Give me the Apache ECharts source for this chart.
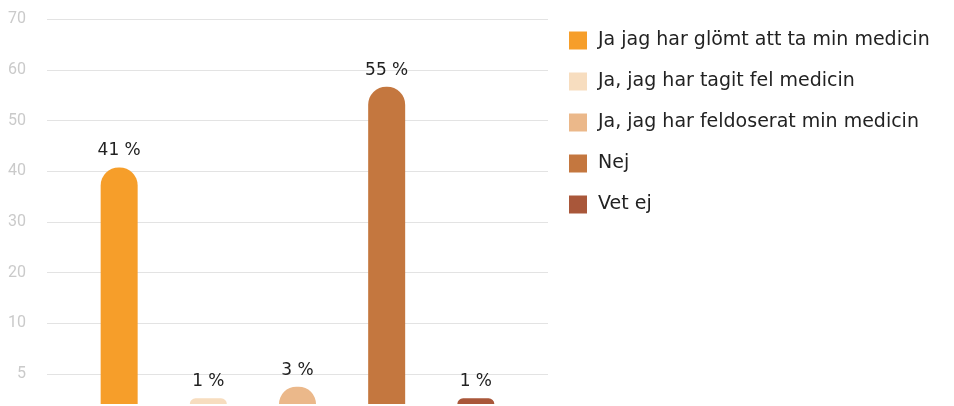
<!DOCTYPE html>
<html>
<head>
<meta charset="utf-8">
<script src="https://cdn.jsdelivr.net/npm/echarts@6/dist/echarts.min.js"></script>
<style>
html,body{margin:0;padding:0;background:#fff;}
#chart{width:954px;height:406px;}
</style>
</head>
<body>
<div id="chart"></div>
<script>
// Data
const seriesNames = [
  'Ja jag har glömt att ta min medicin',
  'Ja, jag har tagit fel medicin',
  'Ja, jag har feldoserat min medicin',
  'Nej',
  'Vet ej'
];
const seriesValues = [41, 1, 3, 55, 1];
const seriesColors = ['#F69E2A', '#F7DDBF', '#EBB88A', '#C4773F', '#A9573A'];
const yTickValues = [0, 10, 20, 30, 40, 50, 60, 70];
const yTickLabels = ['5', '10', '20', '30', '40', '50', '60', '70'];

const chart = echarts.init(document.getElementById('chart'), null, {renderer: 'canvas'});
const fontFam = '"DejaVu Sans", sans-serif';

const series = seriesNames.map((name, i) => ({
  name: name,
  type: 'bar',
  yAxisIndex: 1,
  barWidth: 37,
  barGap: '141%',
  data: [seriesValues[i]],
  itemStyle: { color: seriesColors[i], borderRadius: [18, 18, 0, 0] },
  label: {
    show: true,
    position: 'top',
    distance: 8,
    formatter: p => p.value + ' %',
    color: '#222',
    fontSize: 17,
    fontFamily: fontFam
  }
}));

chart.setOption({
  animation: false,
  backgroundColor: '#fff',
  grid: { left: 47, right: 406, top: 19.3, bottom: -18.6, containLabel: false, outerBoundsMode: 'none' },
  legend: {
    orient: 'vertical',
    left: 564,
    top: 26,
    icon: 'rect',
    itemWidth: 18,
    itemHeight: 18,
    itemGap: 22,
    textStyle: { fontSize: 19, color: '#222', fontFamily: fontFam, padding: [0, 0, 0, 6] },
    data: seriesNames
  },
  xAxis: {
    type: 'category',
    data: [''],
    axisLine: { show: false },
    axisTick: { show: false },
    axisLabel: { show: false }
  },
  yAxis: [
    {
      type: 'value',
      min: -10,
      max: 70,
      interval: 10,
      axisLine: { show: false },
      axisTick: { show: false },
      splitLine: { show: true, lineStyle: { color: '#e3e3e3', width: 1 } },
      axisLabel: {
        color: '#cacaca',
        fontSize: 16,
        fontFamily: 'Roboto, sans-serif',
        margin: 21,
        formatter: v => {
          const idx = yTickValues.indexOf(v);
          return idx >= 0 ? yTickLabels[idx] : '';
        }
      }
    },
    {
      type: 'value',
      min: -3.57,
      max: 66.67,
      show: false,
      splitLine: { show: false }
    }
  ],
  series: series
});
</script>
</body>
</html>
